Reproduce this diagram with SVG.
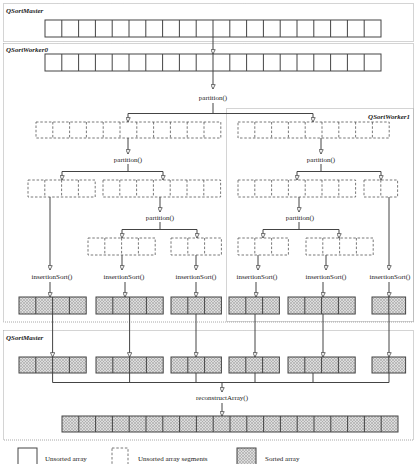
<svg xmlns="http://www.w3.org/2000/svg" width="420" height="464" viewBox="0 0 420 464">
<style>
.bg{fill:#fff}
.zone{fill:none;stroke:#a8a8a8;stroke-width:1;stroke-dasharray:1,1}
.zl{font-family:"Liberation Serif",serif;font-size:7px;font-weight:bold;font-style:italic;fill:#222}
.t{font-family:"Liberation Serif",serif;font-size:7px;fill:#222}
.arr{fill:#fff;stroke:#444;stroke-width:1}
.dash{fill:#fff;stroke:#555;stroke-width:0.8;stroke-dasharray:2.5,1.8}
.srt{fill:url(#hatch);stroke:#444;stroke-width:1}
.conn line,.conn path{fill:none;stroke:#444;stroke-width:1}
</style>
<defs>
<pattern id="hatch" width="3" height="3" patternUnits="userSpaceOnUse">
<rect width="3" height="3" fill="#dcdcdc"/>
<path d="M0,0 L3,3 M3,0 L0,3" stroke="#9a9a9a" stroke-width="0.5"/>
</pattern>
<marker id="ah" viewBox="0 0 8 8" refX="7.5" refY="4" markerWidth="5" markerHeight="5" markerUnits="userSpaceOnUse" orient="auto">
<path d="M0.5,0.5 L7.5,4 L0.5,7.5 z" fill="#fff" stroke="#444" stroke-width="1.2"/>
</marker>
</defs>
<rect class="bg" width="420" height="464"/>

<g id="zone-master1"><rect class="zone" x="3.5" y="3.5" width="410" height="38"/><text class="zl" x="6" y="13">QSortMaster</text></g>
<g id="zone-worker0"><rect class="zone" x="3.5" y="43.5" width="410" height="278.5"/><text class="zl" x="6" y="52">QSortWorker0</text></g>
<g id="zone-worker1"><rect class="zone" x="226.5" y="108.5" width="187" height="213"/><text class="zl" x="410" y="119" text-anchor="end">QSortWorker1</text></g>
<g id="zone-master2"><rect class="zone" x="3.5" y="330.5" width="410" height="109.5"/><text class="zl" x="6" y="340">QSortMaster</text></g>

<g id="connectors" class="conn">
<line x1="213" y1="37" x2="213" y2="54" marker-end="url(#ah)"/>
<line x1="213" y1="71" x2="213" y2="89" marker-end="url(#ah)"/>
<path d="M213,103 V113.5 M128,113.5 H313"/>
<line x1="128" y1="113.5" x2="128" y2="122" marker-end="url(#ah)"/>
<line x1="313" y1="113.5" x2="313" y2="122" marker-end="url(#ah)"/>

<line x1="128" y1="138" x2="128" y2="154" marker-end="url(#ah)"/>
<path d="M128,164 V171.5 M62,171.5 H163"/>
<line x1="62" y1="171.5" x2="62" y2="180" marker-end="url(#ah)"/>
<line x1="163" y1="171.5" x2="163" y2="180" marker-end="url(#ah)"/>

<line x1="321" y1="138" x2="321" y2="154" marker-end="url(#ah)"/>
<path d="M321,164 V171.5 M297,171.5 H381"/>
<line x1="297" y1="171.5" x2="297" y2="180" marker-end="url(#ah)"/>
<line x1="381" y1="171.5" x2="381" y2="180" marker-end="url(#ah)"/>

<line x1="160" y1="197" x2="160" y2="212" marker-end="url(#ah)"/>
<path d="M160,222 V229.5 M122,229.5 H197"/>
<line x1="122" y1="229.5" x2="122" y2="238" marker-end="url(#ah)"/>
<line x1="197" y1="229.5" x2="197" y2="238" marker-end="url(#ah)"/>

<line x1="299" y1="197" x2="299" y2="212" marker-end="url(#ah)"/>
<path d="M299,222 V229.5 M263,229.5 H339"/>
<line x1="263" y1="229.5" x2="263" y2="238" marker-end="url(#ah)"/>
<line x1="339" y1="229.5" x2="339" y2="238" marker-end="url(#ah)"/>

<line x1="50" y1="197" x2="50" y2="270" marker-end="url(#ah)"/>
<line x1="122" y1="255" x2="122" y2="270" marker-end="url(#ah)"/>
<line x1="196" y1="255" x2="196" y2="270" marker-end="url(#ah)"/>
<line x1="258" y1="255" x2="258" y2="270" marker-end="url(#ah)"/>
<line x1="326" y1="255" x2="326" y2="270" marker-end="url(#ah)"/>
<line x1="389" y1="197" x2="389" y2="270" marker-end="url(#ah)"/>

<line x1="50" y1="282" x2="50" y2="297" marker-end="url(#ah)"/>
<line x1="125" y1="282" x2="125" y2="297" marker-end="url(#ah)"/>
<line x1="196" y1="282" x2="196" y2="297" marker-end="url(#ah)"/>
<line x1="256" y1="282" x2="256" y2="297" marker-end="url(#ah)"/>
<line x1="323" y1="282" x2="323" y2="297" marker-end="url(#ah)"/>
<line x1="389" y1="282" x2="389" y2="297" marker-end="url(#ah)"/>

<line x1="52.6" y1="297" x2="52.6" y2="357" marker-end="url(#ah)"/>
<line x1="129.6" y1="297" x2="129.6" y2="357" marker-end="url(#ah)"/>
<line x1="196" y1="297" x2="196" y2="357" marker-end="url(#ah)"/>
<line x1="255" y1="297" x2="255" y2="357" marker-end="url(#ah)"/>
<line x1="323" y1="297" x2="323" y2="357" marker-end="url(#ah)"/>
<line x1="389" y1="297" x2="389" y2="357" marker-end="url(#ah)"/>

<path d="M52.6,357 V382.5 M129.6,357 V382.5 M196,357 V382.5 M255,357 V382.5 M313,373 V382.5 M389,357 V382.5 M52.6,382.5 H389"/>
<line x1="222" y1="382.5" x2="222" y2="392" marker-end="url(#ah)"/>
<line x1="222" y1="403" x2="222" y2="416" marker-end="url(#ah)"/>
</g>

<g id="array-master"><rect class="arr" x="45" y="20" width="336" height="17"/><path class="arr" d="M61.8,20v17M78.6,20v17M95.4,20v17M112.2,20v17M129,20v17M145.8,20v17M162.6,20v17M179.4,20v17M196.2,20v17M213,20v17M229.8,20v17M246.6,20v17M263.4,20v17M280.2,20v17M297,20v17M313.8,20v17M330.6,20v17M347.4,20v17M364.2,20v17"/></g>
<g id="array-worker0"><rect class="arr" x="45" y="54" width="336" height="17"/><path class="arr" d="M61.8,54v17M78.6,54v17M95.4,54v17M112.2,54v17M129,54v17M145.8,54v17M162.6,54v17M179.4,54v17M196.2,54v17M213,54v17M229.8,54v17M246.6,54v17M263.4,54v17M280.2,54v17M297,54v17M313.8,54v17M330.6,54v17M347.4,54v17M364.2,54v17"/></g>
<g id="label-partition-1"><text class="t" x="213" y="100" text-anchor="middle">partition()</text></g>

<g id="seg-1a"><rect class="dash" x="36" y="122" width="184.8" height="16"/><path class="dash" d="M52.8,122v16M69.6,122v16M86.4,122v16M103.2,122v16M120,122v16M136.8,122v16M153.6,122v16M170.4,122v16M187.2,122v16M204,122v16"/></g>
<g id="seg-1b"><rect class="dash" x="238" y="122" width="151.2" height="16"/><path class="dash" d="M254.8,122v16M271.6,122v16M288.4,122v16M305.2,122v16M322,122v16M338.8,122v16M355.6,122v16M372.4,122v16"/></g>
<g id="label-partition-2a"><text class="t" x="128" y="162" text-anchor="middle">partition()</text></g>
<g id="label-partition-2b"><text class="t" x="321" y="162" text-anchor="middle">partition()</text></g>

<g id="seg-2a"><rect class="dash" x="28" y="180" width="67.2" height="17"/><path class="dash" d="M44.8,180v17M61.6,180v17M78.4,180v17"/></g>
<g id="seg-2b"><rect class="dash" x="103" y="180" width="117.6" height="17"/><path class="dash" d="M119.8,180v17M136.6,180v17M153.4,180v17M170.2,180v17M187,180v17M203.8,180v17"/></g>
<g id="seg-2c"><rect class="dash" x="238" y="180" width="117.6" height="17"/><path class="dash" d="M254.8,180v17M271.6,180v17M288.4,180v17M305.2,180v17M322,180v17M338.8,180v17"/></g>
<g id="seg-2d"><rect class="dash" x="364" y="180" width="33.6" height="17"/><path class="dash" d="M380.8,180v17"/></g>
<g id="label-partition-3a"><text class="t" x="160" y="220" text-anchor="middle">partition()</text></g>
<g id="label-partition-3b"><text class="t" x="300" y="220" text-anchor="middle">partition()</text></g>

<g id="seg-3a"><rect class="dash" x="88" y="238" width="67.2" height="17"/><path class="dash" d="M104.8,238v17M121.6,238v17M138.4,238v17"/></g>
<g id="seg-3b"><rect class="dash" x="171" y="238" width="50.4" height="17"/><path class="dash" d="M187.8,238v17M204.6,238v17"/></g>
<g id="seg-3c"><rect class="dash" x="238" y="238" width="50.4" height="17"/><path class="dash" d="M254.8,238v17M271.6,238v17"/></g>
<g id="seg-3d"><rect class="dash" x="306" y="238" width="67.2" height="17"/><path class="dash" d="M322.8,238v17M339.6,238v17M356.4,238v17"/></g>

<g id="label-isort-1"><text class="t" x="52" y="279" text-anchor="middle">insertionSort()</text></g>
<g id="label-isort-2"><text class="t" x="124" y="279" text-anchor="middle">insertionSort()</text></g>
<g id="label-isort-3"><text class="t" x="196" y="279" text-anchor="middle">insertionSort()</text></g>
<g id="label-isort-4"><text class="t" x="257" y="279" text-anchor="middle">insertionSort()</text></g>
<g id="label-isort-5"><text class="t" x="326" y="279" text-anchor="middle">insertionSort()</text></g>
<g id="label-isort-6"><text class="t" x="390" y="279" text-anchor="middle">insertionSort()</text></g>

<g id="sorted-w1"><rect class="srt" x="19" y="297" width="67.2" height="17"/><path class="arr" d="M35.8,297v17M52.6,297v17M69.4,297v17"/></g>
<g id="sorted-w2"><rect class="srt" x="96" y="297" width="67.2" height="17"/><path class="arr" d="M112.8,297v17M129.6,297v17M146.4,297v17"/></g>
<g id="sorted-w3"><rect class="srt" x="171" y="297" width="50.4" height="17"/><path class="arr" d="M187.8,297v17M204.6,297v17"/></g>
<g id="sorted-w4"><rect class="srt" x="229" y="297" width="50.4" height="17"/><path class="arr" d="M245.8,297v17M262.6,297v17"/></g>
<g id="sorted-w5"><rect class="srt" x="288" y="297" width="67.2" height="17"/><path class="arr" d="M304.8,297v17M321.6,297v17M338.4,297v17"/></g>
<g id="sorted-w6"><rect class="srt" x="372" y="297" width="33.6" height="17"/><path class="arr" d="M388.8,297v17"/></g>

<g id="sorted-m1"><rect class="srt" x="19" y="357" width="67.2" height="16"/><path class="arr" d="M35.8,357v16M52.6,357v16M69.4,357v16"/></g>
<g id="sorted-m2"><rect class="srt" x="96" y="357" width="67.2" height="16"/><path class="arr" d="M112.8,357v16M129.6,357v16M146.4,357v16"/></g>
<g id="sorted-m3"><rect class="srt" x="171" y="357" width="50.4" height="16"/><path class="arr" d="M187.8,357v16M204.6,357v16"/></g>
<g id="sorted-m4"><rect class="srt" x="229" y="357" width="50.4" height="16"/><path class="arr" d="M245.8,357v16M262.6,357v16"/></g>
<g id="sorted-m5"><rect class="srt" x="288" y="357" width="67.2" height="16"/><path class="arr" d="M304.8,357v16M321.6,357v16M338.4,357v16"/></g>
<g id="sorted-m6"><rect class="srt" x="372" y="357" width="33.6" height="16"/><path class="arr" d="M388.8,357v16"/></g>

<g id="label-reconstruct"><text class="t" x="222" y="400" text-anchor="middle">reconstructArray()</text></g>
<g id="array-final"><rect class="srt" x="62" y="416" width="336" height="16"/><path class="arr" d="M78.8,416v16M95.6,416v16M112.4,416v16M129.2,416v16M146,416v16M162.8,416v16M179.6,416v16M196.4,416v16M213.2,416v16M230,416v16M246.8,416v16M263.6,416v16M280.4,416v16M297.2,416v16M314,416v16M330.8,416v16M347.6,416v16M364.4,416v16M381.2,416v16"/></g>

<g id="legend">
<rect class="arr" x="18" y="448" width="19" height="22"/><text class="t" x="45" y="461">Unsorted array</text>
<rect class="dash" x="112" y="448" width="16" height="22"/><text class="t" x="138" y="461">Unsorted array segments</text>
<rect class="srt" x="237" y="448" width="19" height="22"/><text class="t" x="265" y="461">Sorted array</text>
</g>
</svg>
